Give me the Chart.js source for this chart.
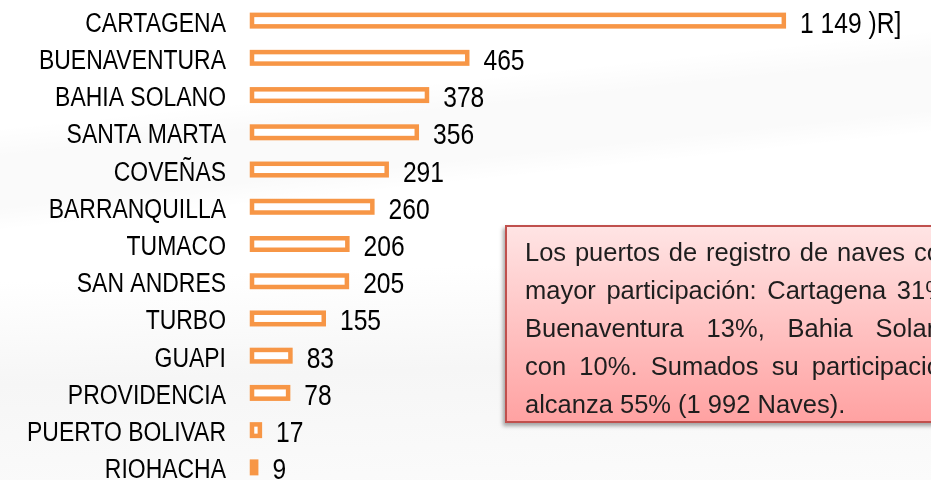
<!DOCTYPE html>
<html lang="es">
<head>
<meta charset="utf-8">
<title>Puertos de registro de naves</title>
<script src="https://cdn.jsdelivr.net/npm/chart.js@4.4.1/dist/chart.umd.min.js"></script>
<style>
    html, body { margin: 0; padding: 0; width: 931px; height: 480px; overflow: hidden; }
    body {
        position: relative;
        background:
            linear-gradient(174deg, rgba(0,0,0,0) 0%, rgba(0,0,0,0) 22%, rgba(0,0,0,0.02) 27%, rgba(0,0,0,0.02) 36%, rgba(0,0,0,0) 40%),
            linear-gradient(178deg, #fff 0%, #fff 55%, #f6f6f6 75%, #fbfbfb 100%);
    }
    #wrap { position: absolute; left: 0; top: 0; width: 931px; height: 486px; }
    .nota {
        position: absolute; left: 505px; top: 225px; width: 480px; height: 198px;
        border: 2px solid #c0504d;
        background: linear-gradient(to bottom, #ffe4e4 0%, #ffc3c3 50%, #ffa2a2 100%);
        box-shadow: -2px 3px 4px rgba(0,0,0,0.35);
        font-family: "Liberation Sans", Arial, sans-serif; font-size: 25.5px; color: #1e1e1e;
        padding: 6px 0 0 18px; box-sizing: border-box;
    }
    .nota div { width: 430px; line-height: 38.1px; height: 38.1px; text-align: justify; text-align-last: justify; white-space: nowrap; }
    .nota div.ultima { text-align-last: left; }
</style>
</head>
<body>
<div id="wrap"><canvas id="chartPuertos"></canvas></div>
<div class="nota">
    <div>Los puertos de registro de naves con</div>
    <div>mayor participación: Cartagena 31%,</div>
    <div>Buenaventura 13%, Bahia Solano</div>
    <div>con 10%. Sumados su participación</div>
    <div class="ultima">alcanza 55% (1 992 Naves).</div>
</div>
<script>
// Data dari gambar
const puertos = ['CARTAGENA', 'BUENAVENTURA', 'BAHIA SOLANO', 'SANTA MARTA', 'COVEÑAS', 'BARRANQUILLA',
    'TUMACO', 'SAN ANDRES', 'TURBO', 'GUAPI', 'PROVIDENCIA', 'PUERTO BOLIVAR', 'RIOHACHA'];
const naves = [1149, 465, 378, 356, 291, 260, 206, 205, 155, 83, 78, 17, 9];
const sisaLabel = ')R]'; // potongan teks yang ikut terlihat di sebelah 1 149

const oranye = '#f79646';
const tebalGaris = 4.5;
const fontSans = '"Liberation Sans", Arial, sans-serif';

// format angka dengan spasi ribuan: 1149 -> "1 149"
function formatNaves(n) {
    return String(n).replace(/\B(?=(\d{3})+(?!\d))/g, ' ');
}

// tulis teks yang dipersempit (mirip Arial Narrow)
function tulisSempit(ctx, txt, x, y, skala, align) {
    ctx.save();
    ctx.translate(x, y);
    ctx.scale(skala, 1);
    ctx.textAlign = align;
    ctx.fillText(txt, 0, 0);
    ctx.restore();
}

// Plugin: bar berongga (garis di tengah tepi) + label kategori + label nilai
const gambarPuertos = {
    id: 'gambarPuertos',
    afterDatasetsDraw(chart) {
        const ctx = chart.ctx;
        const yScale = chart.scales.y;
        const meta = chart.getDatasetMeta(0);
        ctx.save();

        // bar: kotak putih dengan garis oranye
        meta.data.forEach(bar => {
            const h = bar.height;
            ctx.fillStyle = '#ffffff';
            ctx.fillRect(bar.base, bar.y - h / 2, bar.x - bar.base, h);
            ctx.strokeStyle = oranye;
            ctx.lineWidth = tebalGaris;
            ctx.strokeRect(bar.base, bar.y - h / 2, bar.x - bar.base, h);
        });

        ctx.fillStyle = '#000';
        ctx.textBaseline = 'alphabetic';

        // nama puerto, rata kanan
        ctx.font = '27px ' + fontSans;
        puertos.forEach((p, i) => {
            tulisSempit(ctx, p, 226, yScale.getPixelForValue(i) + 11, 0.85, 'right');
        });

        // nilai
        ctx.font = '30px ' + fontSans;
        meta.data.forEach((bar, i) => {
            let txt = formatNaves(naves[i]);
            if (i === 0) txt += ' ' + sisaLabel;
            tulisSempit(ctx, txt, bar.x + tebalGaris / 2 + 14, bar.y + 12, 0.82, 'left');
        });
        ctx.restore();
    }
};

new Chart(document.getElementById('chartPuertos'), {
    type: 'bar',
    data: {
        labels: puertos,
        datasets: [{
            data: naves,
            backgroundColor: 'rgba(0,0,0,0)',
            borderWidth: 0,
            barThickness: 11.5
        }]
    },
    options: {
        indexAxis: 'y',
        responsive: true,
        maintainAspectRatio: false,
        animation: false,
        layout: { padding: { top: 2, right: 31, bottom: 0, left: 0 } },
        plugins: { legend: { display: false }, tooltip: { enabled: false } },
        scales: {
            x: { display: false, min: 0, max: 1400 },
            y: {
                grid: { display: false, drawTicks: false },
                border: { display: false },
                ticks: { display: false },
                afterFit(scale) { scale.width = 252; }
            }
        }
    },
    plugins: [gambarPuertos]
});
</script>
</body>
</html>
